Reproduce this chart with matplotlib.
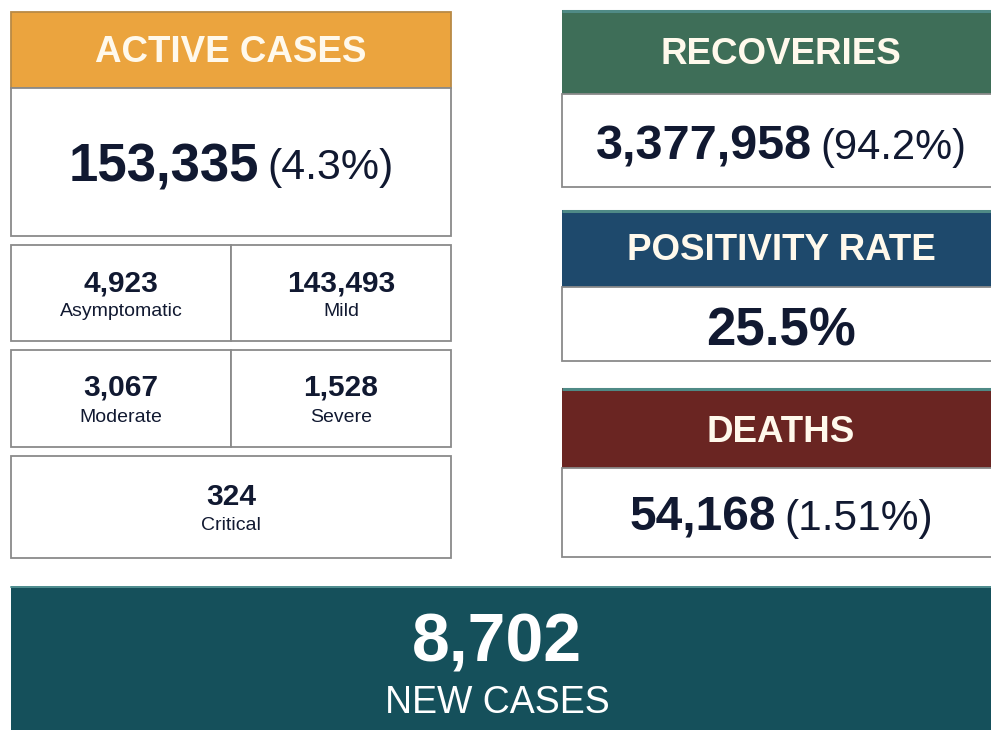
import matplotlib
matplotlib.use("Agg")
import matplotlib.pyplot as plt
from matplotlib.patches import Rectangle

# ---- data ----
active_cases = 153335
active_pct = 4.3
breakdown_labels = ["Asymptomatic", "Mild", "Moderate", "Severe", "Critical"]
breakdown_values = [4923, 143493, 3067, 1528, 324]
recoveries = 3377958
recoveries_pct = 94.2
positivity_rate = 25.5
deaths = 54168
deaths_pct = 1.51
new_cases = 8702

FONT = "Liberation Sans"
NAVY = "#111931"
BORDER = "#8a8a8a"

W, H = 991, 730
fig = plt.figure(figsize=(W / 100, H / 100), dpi=100)
ax = fig.add_axes([0, 0, 1, 1])
ax.set_xlim(0, W)
ax.set_ylim(H, 0)
ax.axis("off")
renderer = fig.canvas.get_renderer()


def box(x0, y0, x1, y1, fc="white", ec=BORDER, lw=1.3, z=1):
    ax.add_patch(Rectangle((x0, y0), x1 - x0, y1 - y0, facecolor=fc,
                           edgecolor=ec, linewidth=lw, zorder=z))


def text(x, y, s, size, weight="normal", color=NAVY, ha="center"):
    return ax.text(x, y, s, fontsize=size, fontweight=weight, color=color,
                   ha=ha, va="center", family=FONT, zorder=5)


def pair(cx, cy, bold_s, reg_s, bsize, rsize, gap=8):
    t1 = text(0, cy, bold_s, bsize, "bold", ha="left")
    t2 = text(0, cy + 1, reg_s, rsize, "normal", ha="left")
    w1 = t1.get_window_extent(renderer).width
    w2 = t2.get_window_extent(renderer).width
    total = w1 + gap + w2
    x0 = cx - total / 2
    t1.set_x(x0)
    t2.set_x(x0 + w1 + gap)


HEADER_TXT = "#fff9ec"

# ---- Active cases ----
box(11, 12, 451, 88, fc="#eba43e", ec="#b98a45")
text(231, 53, "ACTIVE CASES", 26.5, "bold", HEADER_TXT)
box(11, 88, 451, 236)
pair(231, 167, f"{active_cases:,}", f"({active_pct}%)", 38, 31)

# breakdown grid
rows = [(245, 341), (350, 447)]
cols = [(11, 231), (231, 451)]
idx = 0
for (y0, y1) in rows:
    for (x0, x1) in cols:
        box(x0, y0, x1, y1)
        cx = (x0 + x1) / 2
        text(cx, y0 + 38, f"{breakdown_values[idx]:,}", 21.5, "bold")
        text(cx, y0 + 67, breakdown_labels[idx], 14)
        idx += 1
box(11, 456, 451, 558)
text(231, 497, f"{breakdown_values[4]:,}", 21.5, "bold")
text(231, 526, breakdown_labels[4], 14)

# ---- Right column ----
RX0, RX1, RCX = 562, 1000, 781
TEAL_LINE = "#4f8a86"


def right_panel(y_top, y_mid, y_bot, color, title, ty):
    box(RX0, y_top, RX1, y_mid, fc=color, ec=color, lw=0)
    ax.plot([RX0, RX1], [y_top + 1, y_top + 1], color=TEAL_LINE, lw=2.2, zorder=3,
            solid_capstyle="butt")
    box(RX0, y_mid, RX1, y_bot)
    text(RCX, ty, title, 26.5, "bold", HEADER_TXT)


right_panel(10, 94, 187, "#3e6e58", "RECOVERIES", 55)
pair(RCX, 147, f"{recoveries:,}", f"({recoveries_pct}%)", 35, 30)

right_panel(210, 287, 361, "#1e496c", "POSITIVITY RATE", 251)
text(RCX, 331, f"{positivity_rate}%", 38, "bold")

right_panel(388, 468, 557, "#6a2522", "DEATHS", 432)
pair(RCX, 518, f"{deaths:,}", f"({deaths_pct}%)", 34.5, 30.5)

# ---- New cases ----
box(11, 586, 1000, 740, fc="#15505b", ec="#15505b", lw=0)
ax.plot([11, 1000], [586.5, 586.5], color="#5b9a9a", lw=1.2, zorder=3)
text(497, 643, f"{new_cases:,}", 49, "bold", "white")
text(497, 703, "NEW CASES", 27, "normal", "white")

fig.savefig("out.png", dpi=100)
